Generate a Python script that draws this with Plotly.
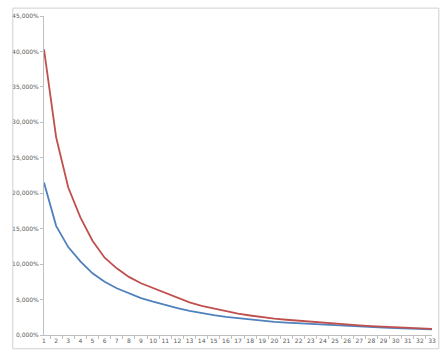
import plotly.graph_objects as go

categories = [str(i) for i in range(1, 34)]
red_series = [40.3, 27.9, 20.8, 16.6, 13.3, 10.9, 9.4, 8.2, 7.3, 6.6, 5.9, 5.3, 4.6, 4.1, 3.7,
              3.3, 3.0, 2.75, 2.5, 2.3, 2.15, 2.0, 1.85, 1.7, 1.55, 1.45, 1.35, 1.25, 1.15,
              1.05, 1.0, 0.92, 0.85]
blue_series = [21.5, 15.4, 12.4, 10.4, 8.7, 7.5, 6.6, 5.9, 5.2, 4.7, 4.2, 3.8, 3.4, 3.05, 2.8,
               2.55, 2.35, 2.15, 2.0, 1.85, 1.75, 1.65, 1.55, 1.45, 1.37, 1.3, 1.2, 1.12, 1.05,
               0.98, 0.92, 0.86, 0.8]
y_ticks = [0, 5, 10, 15, 20, 25, 30, 35, 40, 45]
y_tick_labels = ["0,000%", "5,000%", "10,000%", "15,000%", "20,000%", "25,000%",
                 "30,000%", "35,000%", "40,000%", "45,000%"]

fig = go.Figure()
fig.add_trace(go.Scatter(x=categories, y=blue_series, mode="lines",
                         line=dict(color="#4F81BD", width=1.8), showlegend=False))
fig.add_trace(go.Scatter(x=categories, y=red_series, mode="lines",
                         line=dict(color="#C0504D", width=1.8), showlegend=False))

L, R, T, B = 38, 12, 15, 17
W, H = 448, 356
pw, ph = W - L - R, H - T - B
def px(x):
    return (x - L) / pw
def py(y):
    return (H - B - y) / ph

fig.update_layout(
    width=W, height=H,
    margin=dict(l=L, r=R, t=T, b=B),
    paper_bgcolor="white", plot_bgcolor="white",
    font=dict(family="DejaVu Sans", size=6, color="#595959"),
    xaxis=dict(type="category", showgrid=False, showline=True, linecolor="#BFBFBF",
               linewidth=1, ticks="outside", tickson="boundaries", ticklen=3,
               tickcolor="#BFBFBF", tickfont=dict(size=6, color="#595959"),
               tickangle=0, zeroline=False),
    yaxis=dict(range=[0, 45], tickvals=y_ticks, ticktext=y_tick_labels, showgrid=False,
               showline=True, linecolor="#BFBFBF", linewidth=1, ticks="outside",
               ticklen=3, tickcolor="#BFBFBF", tickfont=dict(size=6, color="#595959"),
               zeroline=False),
    shapes=[dict(type="rect", xref="paper", yref="paper",
                 x0=px(6), x1=px(443), y0=py(353), y1=py(7),
                 line=dict(color="#D0D0D0", width=1))],
)

fig.write_html("out.html")
